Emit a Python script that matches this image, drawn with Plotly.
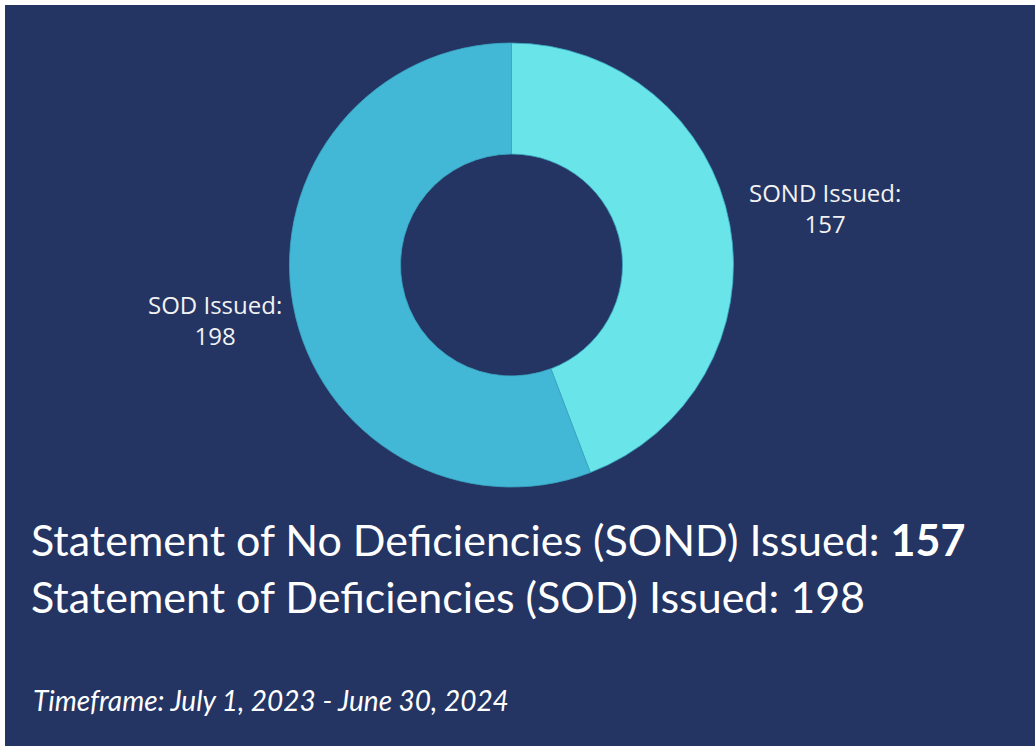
import plotly.graph_objects as go

# Certificate counts for the reporting period
labels = ["SOND Issued", "SOD Issued"]
values = [157, 198]
long_names = ["Statement of No Deficiencies (SOND) Issued", "Statement of Deficiencies (SOD) Issued"]
timeframe = "Timeframe: July 1, 2023 - June 30, 2024"

W, H = 1035, 746
BG = "#243463"
COLORS = ["#69E5E9", "#42B8D6"]

fig = go.Figure()
fig.add_trace(go.Pie(
    labels=labels,
    values=values,
    hole=0.5,
    sort=False,
    direction="clockwise",
    rotation=0,
    marker=dict(colors=COLORS, line=dict(color="#3BA6C2", width=0.8)),
    textinfo="none",
    hoverinfo="label+value",
    showlegend=False,
    domain=dict(x=[289.5 / W, 733.5 / W], y=[1 - 487 / H, 1 - 43 / H]),
))

label_font = dict(family="Open Sans, Noto Sans, sans-serif", size=24, color="#F2F2F2")
# Slice labels beside each ring segment (centre x, centre y in pixels)
label_pos = [(824.5, 207.5), (214.5, 319.5)]
for name, val, (cx, cy) in zip(labels, values, label_pos):
    fig.add_annotation(x=cx / W, y=1 - cy / H, xref="paper", yref="paper",
                       text=f"{name}:<br>{val}", showarrow=False,
                       xanchor="center", yanchor="middle", align="center",
                       font=label_font)

summary_font = dict(family="Lato, sans-serif", size=43, color="#FFFFFF")
fig.add_annotation(x=29 / W, y=1 - 539 / H, xref="paper", yref="paper",
                   text=f"{long_names[0]}: <b>{values[0]}</b>", showarrow=False,
                   xanchor="left", yanchor="middle", align="left", font=summary_font)
fig.add_annotation(x=29 / W, y=1 - 596 / H, xref="paper", yref="paper",
                   text=f"{long_names[1]}: {values[1]}", showarrow=False,
                   xanchor="left", yanchor="middle", align="left", font=summary_font)
fig.add_annotation(x=31 / W, y=1 - 700 / H, xref="paper", yref="paper",
                   text=f"<i>{timeframe}</i>", showarrow=False,
                   xanchor="left", yanchor="middle", align="left",
                   font=dict(family="Lato, sans-serif", size=28, color="#FFFFFF"))

# Thin white strip along the top and left edges
fig.add_shape(type="rect", xref="paper", yref="paper", x0=0, x1=1, y0=1 - 5 / H, y1=1,
              fillcolor="white", line=dict(width=0), layer="above")
fig.add_shape(type="rect", xref="paper", yref="paper", x0=0, x1=5 / W, y0=0, y1=1,
              fillcolor="white", line=dict(width=0), layer="above")

fig.update_layout(
    width=W, height=H,
    margin=dict(l=0, r=0, t=0, b=0),
    paper_bgcolor=BG, plot_bgcolor=BG,
)

fig.write_html("out.html")
